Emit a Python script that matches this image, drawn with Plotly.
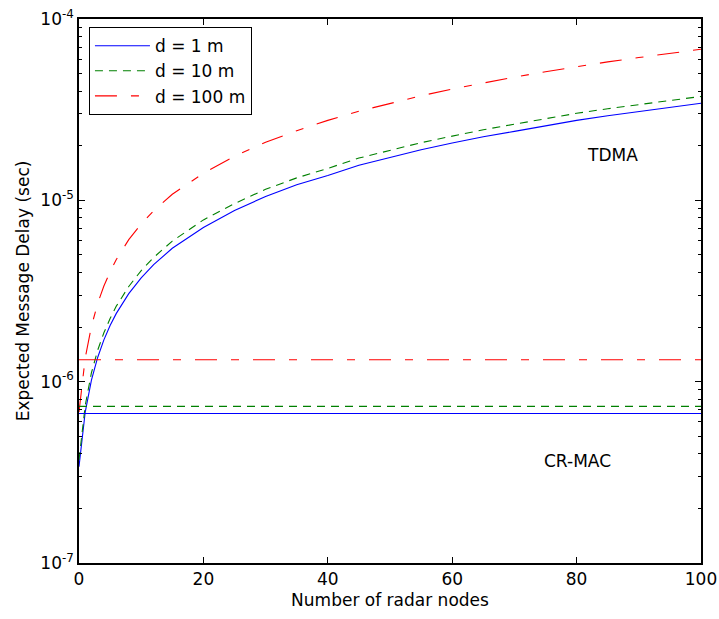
import plotly.graph_objects as go

# Number of radar nodes (x) at which the TDMA curves are sampled
nodes = [0, 1, 2, 3, 4, 5, 6, 8, 10, 12, 15, 20, 25, 30, 35, 40, 45, 50,
         55, 60, 65, 70, 75, 80, 85, 90, 95, 100]

# TDMA expected message delay (sec)
tdma_d1 = [3.4e-7, 6.8e-7, 1.02e-6, 1.36e-6, 1.70e-6, 2.04e-6, 2.38e-6, 3.06e-6,
           3.74e-6, 4.42e-6, 5.44e-6, 7.08e-6, 8.8e-6, 1.05e-5, 1.22e-5, 1.37e-5,
           1.56e-5, 1.73e-5, 1.90e-5, 2.07e-5, 2.24e-5, 2.40e-5, 2.58e-5, 2.76e-5,
           2.93e-5, 3.08e-5, 3.26e-5, 3.43e-5]
tdma_d10 = [3.7e-7, 7.4e-7, 1.12e-6, 1.49e-6, 1.86e-6, 2.23e-6, 2.61e-6, 3.35e-6,
            4.10e-6, 4.84e-6, 5.96e-6, 7.8e-6, 9.6e-6, 1.15e-5, 1.33e-5, 1.50e-5,
            1.71e-5, 1.89e-5, 2.08e-5, 2.26e-5, 2.45e-5, 2.63e-5, 2.83e-5, 3.02e-5,
            3.20e-5, 3.38e-5, 3.56e-5, 3.74e-5]
tdma_d100 = [6.8e-7, 1.35e-6, 2.02e-6, 2.70e-6, 3.37e-6, 4.04e-6, 4.72e-6, 6.07e-6,
             7.41e-6, 8.76e-6, 1.08e-5, 1.41e-5, 1.75e-5, 2.09e-5, 2.42e-5, 2.76e-5,
             3.10e-5, 3.43e-5, 3.77e-5, 4.11e-5, 4.45e-5, 4.78e-5, 5.12e-5, 5.46e-5,
             5.80e-5, 6.13e-5, 6.47e-5, 6.81e-5]

# CR-MAC expected message delay (constant, sec)
crmac_x = [0, 100]
crmac_d1 = [6.67e-7, 6.67e-7]
crmac_d10 = [7.31e-7, 7.31e-7]
crmac_d100 = [1.32e-6, 1.32e-6]

labels = ["d = 1 m", "d = 10 m", "d = 100 m"]
colors = ["#0000FF", "#008000", "#FF0000"]
dashes = ["solid", "8px,6px", "22px,14px,8px,14px"]

x_ticks = [0, 20, 40, 60, 80, 100]
y_ticks = [1e-7, 1e-6, 1e-5, 1e-4]
y_ticktext = ["10<sup>-7</sup>", "10<sup>-6</sup>", "10<sup>-5</sup>", "10<sup>-4</sup>"]

FONT = "DejaVu Sans, Liberation Sans, Arial, sans-serif"

fig = go.Figure()
for lab, col, dsh, ys in zip(labels, colors, dashes, [tdma_d1, tdma_d10, tdma_d100]):
    fig.add_trace(go.Scatter(x=nodes, y=ys, mode="lines", name=lab,
                             line=dict(color=col, width=1.1, dash=dsh)))
for col, dsh, ys in zip(colors, dashes, [crmac_d1, crmac_d10, crmac_d100]):
    fig.add_trace(go.Scatter(x=crmac_x, y=ys, mode="lines", showlegend=False,
                             line=dict(color=col, width=1.1, dash=dsh)))
# invisible trace so the mirrored right axis (with minor ticks) is drawn
fig.add_trace(go.Scatter(x=crmac_x, y=crmac_d1, yaxis="y2", mode="lines",
                         showlegend=False, hoverinfo="skip",
                         line=dict(color="rgba(0,0,0,0)", width=0)))

minor_vals = [m * 10 ** e for e in range(-7, -4) for m in range(2, 10)]

yaxis_common = dict(type="log", range=[-7, -4], tickvals=y_ticks,
                    ticks="inside", ticklen=6, tickcolor="black",
                    showline=True, linecolor="black", linewidth=1.5,
                    showgrid=False, zeroline=False, automargin=False,
                    minor=dict(tickvals=minor_vals, ticks="inside", ticklen=3.5,
                               showgrid=False, tickcolor="black"))

fig.update_layout(
    width=719, height=619, autosize=False,
    margin=dict(l=79, r=18, t=19, b=56),
    paper_bgcolor="white", plot_bgcolor="white",
    font=dict(family=FONT, size=17, color="black"),
    showlegend=True,
    legend=dict(x=0.016, y=0.985, xanchor="left", yanchor="top",
                bgcolor="white", bordercolor="black", borderwidth=1,
                itemwidth=55, tracegroupgap=0,
                font=dict(family=FONT, size=17, color="black")),
    xaxis=dict(range=[0, 100], tickvals=x_ticks, ticks="inside", ticklen=6,
               tickcolor="black", automargin=False,
               showline=True, linecolor="black", linewidth=1.5, mirror="ticks",
               showgrid=False, zeroline=False,
               tickfont=dict(family=FONT, size=17),
               title=dict(text="Number of radar nodes", standoff=6,
                          font=dict(family=FONT, size=17))),
    yaxis=dict(**yaxis_common, ticktext=y_ticktext,
               tickfont=dict(family=FONT, size=17),
               title=dict(text="Expected Message Delay (sec)", standoff=6,
                          font=dict(family=FONT, size=17))),
    yaxis2=dict(**yaxis_common, overlaying="y", side="right",
                showticklabels=False),
    annotations=[
        dict(x=85.7, y=-4.75, xref="x", yref="y", text="TDMA", showarrow=False,
             font=dict(family=FONT, size=17)),
        dict(x=80.2, y=-6.44, xref="x", yref="y", text="CR-MAC", showarrow=False,
             font=dict(family=FONT, size=17)),
    ],
)

fig.write_html(
    "out.html",
    config={"displayModeBar": False, "responsive": False},
    post_script=("document.documentElement.style.margin='0';"
                 "document.documentElement.style.overflow='hidden';"
                 "document.body.style.margin='0';document.body.style.padding='0';"
                 "document.body.style.overflow='hidden';"),
)
